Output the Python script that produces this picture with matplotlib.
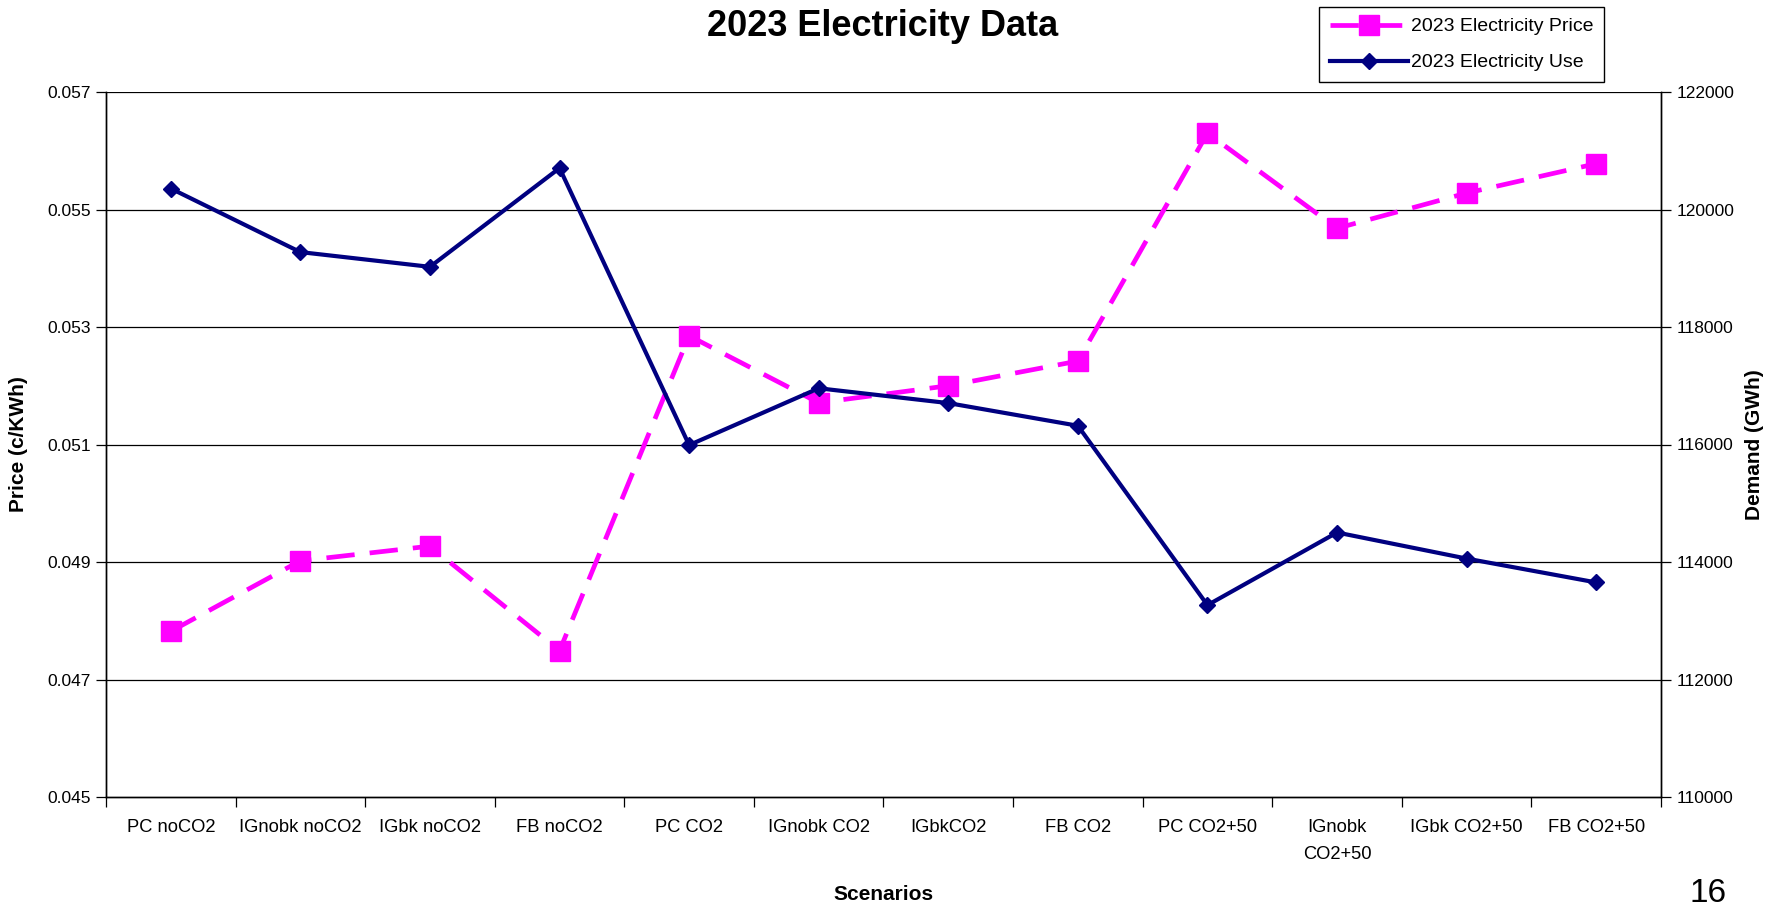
import matplotlib
matplotlib.use("Agg")
import matplotlib.pyplot as plt
from matplotlib.ticker import FixedLocator, NullFormatter, FixedFormatter

plt.rcParams['font.family'] = ['Liberation Sans', 'DejaVu Sans']

scenarios = ["PC noCO2", "IGnobk noCO2", "IGbk noCO2", "FB noCO2", "PC CO2",
             "IGnobk CO2", "IGbkCO2", "FB CO2", "PC CO2+50", "IGnobk\nCO2+50",
             "IGbk CO2+50", "FB CO2+50"]
price = [0.04782, 0.04902, 0.04927, 0.04749, 0.05285, 0.05171,
         0.05200, 0.05242, 0.05630, 0.05468, 0.05528, 0.05578]
demand = [120357, 119275, 119024, 120705, 115990, 116957,
          116705, 116319, 113266, 114502, 114058, 113652]
price_ticks = [0.045, 0.047, 0.049, 0.051, 0.053, 0.055, 0.057]
demand_ticks = [110000, 112000, 114000, 116000, 118000, 120000, 122000]

PINK = "#FF00FF"
NAVY = "#000080"

fig = plt.figure(figsize=(17.8, 9.08), dpi=100)
ax = fig.add_axes([106 / 1780, 1 - 797 / 908, (1661 - 106) / 1780, (797 - 92) / 908])
ax2 = ax.twinx()

xs = [i + 0.5 for i in range(len(scenarios))]

# horizontal gridlines
for t in price_ticks[1:]:
    ax.axhline(t, color="black", lw=0.9, zorder=0)

l1, = ax.plot(xs, price, color=PINK, lw=3.4, dashes=(6, 3.2), marker="s",
              markersize=14, markeredgecolor=PINK, markerfacecolor=PINK,
              label="2023 Electricity Price", zorder=3)
l2, = ax2.plot(xs, demand, color=NAVY, lw=3.0, marker="D", markersize=8,
               markeredgecolor=NAVY, markerfacecolor=NAVY,
               label="2023 Electricity Use", zorder=3)

ax.set_xlim(0, len(scenarios))
ax.set_ylim(0.045, 0.057)
ax2.set_ylim(110000, 122000)

ax.set_yticks(price_ticks)
ax.set_yticklabels([f"{t:.3f}" for t in price_ticks])
ax2.set_yticks(demand_ticks)
ax2.set_yticklabels([str(t) for t in demand_ticks])

ax.xaxis.set_major_locator(FixedLocator(range(len(scenarios) + 1)))
ax.xaxis.set_major_formatter(NullFormatter())
ax.xaxis.set_minor_locator(FixedLocator(xs))
ax.xaxis.set_minor_formatter(FixedFormatter(scenarios))
ax.tick_params(axis="x", which="major", direction="out", length=7, width=0.9)
ax.tick_params(axis="x", which="minor", length=0, pad=16, labelsize=13.2)
for lbl in ax.xaxis.get_minorticklabels():
    lbl.set_linespacing(1.75)
ax.tick_params(axis="y", direction="out", length=7, width=0.9, labelsize=12.5, pad=4)
ax2.tick_params(axis="y", direction="out", length=7, width=0.9, labelsize=12.5, pad=4)

for a in (ax, ax2):
    a.spines["top"].set_visible(False)
    for s in ("left", "right", "bottom"):
        a.spines[s].set_linewidth(1.0)

ax.set_ylabel("Price (c/KWh)", fontsize=15, fontweight="bold", labelpad=14)
ax2.set_ylabel("Demand (GWh)", fontsize=15, fontweight="bold", labelpad=8)
fig.text(883 / 1780, 1 - 895 / 908, "Scenarios", ha="center", va="center",
         fontsize=15, fontweight="bold")

fig.text(883 / 1780, 1 - 26 / 908, "2023 Electricity Data", ha="center", va="center",
         fontsize=26, fontweight="bold")

leg = fig.legend(handles=[l1, l2], loc="upper right",
                 bbox_to_anchor=(1604 / 1780, 1 - 7 / 908), fontsize=14,
                 frameon=True, fancybox=False, edgecolor="black", framealpha=1,
                 handlelength=4.0, borderpad=0.55, labelspacing=0.95,
                 handletextpad=0.15, borderaxespad=0)
leg.get_frame().set_linewidth(1.0)

fig.text(1708 / 1780, 1 - 893 / 908, "16", ha="center", va="center", fontsize=24)

fig.savefig("out.png", dpi=100)
